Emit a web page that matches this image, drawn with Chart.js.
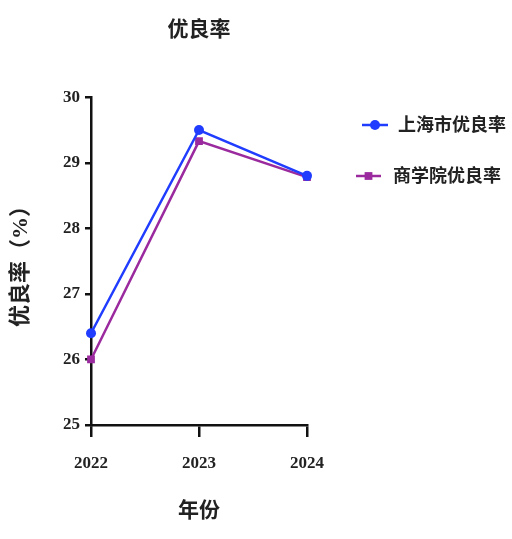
<!DOCTYPE html>
<html>
<head>
<meta charset="utf-8">
<script src="https://cdn.jsdelivr.net/npm/chart.js@4.4.1/dist/chart.umd.min.js"></script>
<style>
html,body{margin:0;padding:0;background:#fff;}
#wrap{width:512px;height:539px;position:relative;}
</style>
</head>
<body>
<div id="wrap"><canvas id="c"></canvas></div>
<script>
const years = ['2022', '2023', '2024'];
const shanghaiRate = [26.4, 29.5, 28.8];
const schoolRate = [26.0, 29.33, 28.78];
const yTicks = [25, 26, 27, 28, 29, 30];
const seriesNames = ['上海市优良率', '商学院优良率'];
const chartTitle = '优良率';
const xTitle = '年份';
const yTitle = '优良率（%）';

const BLUE = '#1f3cff';
const PURPLE = '#9a2a9e';
const TEXT = '#222';
const FONT = "'Liberation Serif', 'Noto Sans CJK SC', serif";

const legendPlugin = {
  id: 'sideLegend',
  afterDraw(chart) {
    const ctx = chart.ctx;
    const items = [
      {x0: 362, x1: 388, y: 125, tx: 398},
      {x0: 356, x1: 381, y: 176, tx: 393}
    ];
    chart.data.datasets.forEach((ds, i) => {
      const it = items[i];
      ctx.save();
      ctx.strokeStyle = ds.borderColor;
      ctx.lineWidth = 2.5;
      ctx.beginPath();
      ctx.moveTo(it.x0, it.y);
      ctx.lineTo(it.x1, it.y);
      ctx.stroke();
      ctx.fillStyle = ds.backgroundColor;
      Chart.helpers.drawPoint(ctx, {pointStyle: ds.pointStyle, radius: ds.pointRadius, borderWidth: 0, rotation: 0}, (it.x0 + it.x1) / 2, it.y);
      ctx.fillStyle = TEXT;
      ctx.font = "bold 18px " + FONT;
      ctx.textBaseline = 'middle';
      ctx.textAlign = 'left';
      ctx.fillText(ds.label, it.tx, it.y + 1);
      ctx.restore();
    });
  }
};

new Chart(document.getElementById('c'), {
  type: 'line',
  data: {
    labels: years,
    datasets: [
      {label: seriesNames[0], data: shanghaiRate, borderColor: BLUE, backgroundColor: BLUE,
       borderWidth: 2.5, pointStyle: 'circle', pointRadius: 5, pointBorderWidth: 0, tension: 0},
      {label: seriesNames[1], data: schoolRate, borderColor: PURPLE, backgroundColor: PURPLE,
       borderWidth: 2.5, pointStyle: 'rect', pointRadius: 5.5, pointBorderWidth: 0, tension: 0}
    ]
  },
  options: {
    responsive: true,
    maintainAspectRatio: false,
    animation: false,
    devicePixelRatio: 1,
    layout: {padding: {left: 0, right: 205, top: 0, bottom: 0}},
    plugins: {
      legend: {display: false},
      tooltip: {enabled: false},
      title: {
        display: true, text: chartTitle, fullSize: false, color: TEXT,
        font: {family: FONT, size: 21, weight: 'bold'},
        padding: {top: 18, bottom: 54}
      }
    },
    scales: {
      x: {
        type: 'category',
        offset: false,
        afterFit(s) { s.height = 114; },
        border: {display: true, color: '#111', width: 2.5},
        grid: {display: true, drawOnChartArea: false, drawTicks: true, tickLength: 12, color: '#111', lineWidth: 2.5},
        ticks: {color: TEXT, font: {family: FONT, size: 17, weight: 'bold'}, padding: 16, maxRotation: 0},
        title: {display: true, text: xTitle, color: TEXT, font: {family: FONT, size: 21, weight: 'bold'}, padding: {top: 4, bottom: 15}}
      },
      y: {
        min: 25, max: 30,
        afterFit(s) { s.width = 91; },
        afterBuildTicks(s) { s.ticks = yTicks.map(v => ({value: v})); },
        border: {display: true, color: '#111', width: 2.5},
        grid: {display: true, drawOnChartArea: false, drawTicks: true, tickLength: 6, color: '#111', lineWidth: 2.5},
        ticks: {color: TEXT, font: {family: FONT, size: 17, weight: 'bold'}, padding: 5},
        title: {display: true, text: yTitle, color: TEXT, font: {family: FONT, size: 22, weight: 'bold'}, padding: {top: 8, bottom: 4}}
      }
    }
  },
  plugins: [legendPlugin]
});
</script>
</body>
</html>
